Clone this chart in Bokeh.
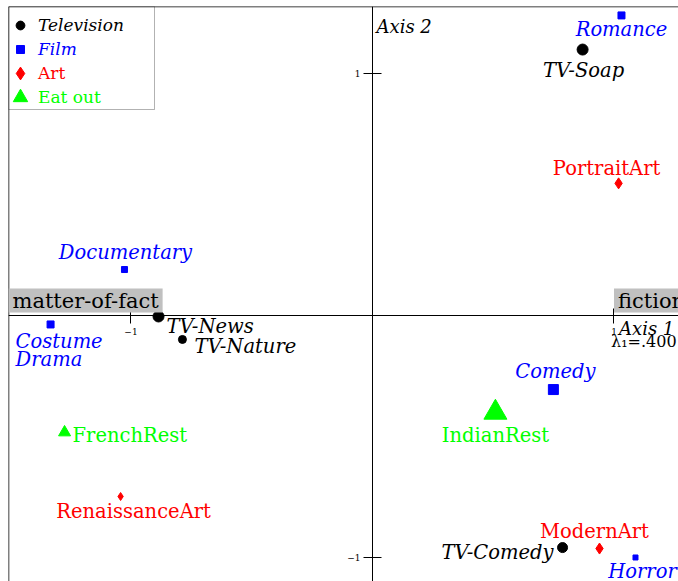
from bokeh.plotting import figure
from bokeh.models import (ColumnDataSource, Span, Label, LinearAxis, FixedTicker,
                          Legend, LegendItem, BoxAnnotation)
from bokeh.core.properties import value
from bokeh.embed import file_html
from bokeh.resources import INLINE

# ---------------- data ----------------
tv_names = ["TV-Soap", "TV-News", "TV-Nature", "TV-Comedy"]
tv_x = [0.870, -0.886, -0.787, 0.787]
tv_y = [1.099, -0.004, -0.099, -0.959]

film_names = ["Romance", "Documentary", "Costume\nDrama", "Comedy", "Horror"]
film_x = [1.031, -1.027, -1.333, 0.749, 1.089]
film_y = [1.240, 0.190, -0.037, -0.306, -1.000]

art_names = ["PortraitArt", "RenaissanceArt", "ModernArt"]
art_x = [1.019, -1.043, 0.940]
art_y = [0.546, -0.748, -0.963]

eat_names = ["FrenchRest", "IndianRest"]
eat_x = [-1.275, 0.509]
eat_y = [-0.483, -0.401]

axis_ticks = [-1, 1]
tick_labels = {-1: "\u22121", 1: "1"}
pole_left = "matter-of-fact"
pole_right = "fiction"
axis1_title = "Axis 1"
axis2_title = "Axis 2"
lambda1_text = "\u03bb\u2081=.400"
legend_labels = ["Television", "Film", "Art", "Eat out"]

# ---------------- styles ----------------
W, H = 678, 581
ML, MT = 8, 6              # frame offset inside the figure
HF = H - MT                # frame height
X0, X1 = -1.5072, 1.2671
Y0, Y1 = -1.0992, 1.2769
FONT = "DejaVu Serif"
LBL_SIZE = "19.5px"

tv_size = [11, 11, 8, 10]
film_size = [7, 6, 7, 10, 5]
art_size = [11, 8, 11]
eat_size = [12, 23]

tv_dx = [1, 8, 12, -9]
tv_dy = [21, 10, 7, 5]
tv_al = ["center", "left", "left", "right"]
tv_bl = ["alphabetic"] * 4
tv_lh = [0.9] * 4

film_dx = [0, 1, -35, 2, 7]
film_dy = [14, -17, 6, -18, 14]
film_al = ["center", "center", "left", "center", "center"]
film_bl = ["alphabetic", "alphabetic", "top", "alphabetic", "alphabetic"]
film_lh = [0.9, 0.9, 0.75, 0.9, 0.9]

art_dx = [-12, 13, -5]
art_dy = [-15, 15, -17]
art_al = ["center", "center", "center"]
art_bl = ["alphabetic"] * 3
art_lh = [0.9] * 3

eat_dx = [8, 0]
eat_dy = [3, 23]
eat_al = ["left", "center"]
eat_bl = ["alphabetic"] * 2
eat_lh = [0.9] * 2

p = figure(width=W, height=H, x_range=(X0, X1), y_range=(Y0, Y1),
           output_backend="svg", toolbar_location=None,
           x_axis_location=None, y_axis_location=None,
           min_border_left=ML, min_border_top=MT, min_border_right=0, min_border_bottom=0,
           outline_line_color=None, background_fill_color="white",
           border_fill_color="white")
p.grid.visible = False

# frame borders (left and top only; the rest is cut off)
p.add_layout(Span(location=X0, dimension="height", line_color="black", line_width=1.5))
p.add_layout(Span(location=Y1, dimension="width", line_color="black", line_width=1.5))

# axes through the origin
xaxis = LinearAxis(fixed_location=0, ticker=FixedTicker(ticks=axis_ticks),
                   major_label_overrides=tick_labels,
                   major_tick_in=7, major_tick_out=8, minor_tick_line_color=None,
                   axis_line_color="black", major_tick_line_color="black",
                   major_label_text_font=FONT, major_label_text_font_size="9px",
                   major_label_text_color="black", major_label_standoff=4)
yaxis = LinearAxis(fixed_location=0, ticker=FixedTicker(ticks=axis_ticks),
                   major_label_overrides=tick_labels,
                   major_tick_in=9, major_tick_out=9, minor_tick_line_color=None,
                   axis_line_color="black", major_tick_line_color="black",
                   major_label_text_font=FONT, major_label_text_font_size="9px",
                   major_label_text_color="black",
                   major_label_standoff=3, major_label_orientation="horizontal")
p.add_layout(xaxis, "below")
p.add_layout(yaxis, "left")


def draw(names, xs, ys, marker, sizes, color, style, dxs, dys, als, bls, lhs):
    src = ColumnDataSource(dict(x=xs, y=ys, size=sizes))
    r = p.scatter("x", "y", source=src, marker=marker, size="size",
                  fill_color=color, line_color=color)
    for i in range(len(names)):
        p.text(x=[xs[i]], y=[ys[i]], text=[names[i]], x_offset=dxs[i], y_offset=dys[i],
               text_align=als[i], text_baseline=bls[i], text_color=color,
               text_font=value(FONT), text_font_size=LBL_SIZE,
               text_font_style=style, text_line_height=lhs[i])
    return r


r_tv = draw(tv_names, tv_x, tv_y, "circle", tv_size, "black", "italic",
            tv_dx, tv_dy, tv_al, tv_bl, tv_lh)
r_film = draw(film_names, film_x, film_y, "square", film_size, "#0000ff", "italic",
              film_dx, film_dy, film_al, film_bl, film_lh)
r_art = draw(art_names, art_x, art_y, "diamond", art_size, "#ff0000", "normal",
             art_dx, art_dy, art_al, art_bl, art_lh)
r_eat = draw(eat_names, eat_x, eat_y, "triangle", eat_size, "#00ff00", "normal",
             eat_dx, eat_dy, eat_al, eat_bl, eat_lh)

# pole labels on the horizontal axis
p.add_layout(Label(x=0, x_units="screen", y=0, text=pole_left, text_font=FONT,
                   text_font_size="21px", text_color="black", text_baseline="bottom",
                   x_offset=0, y_offset=3,
                   background_fill_color="#c0c0c0", padding=(4, 0)))
p.add_layout(Label(x=1, y=0, text=pole_right, text_font=FONT,
                   text_font_size="21px", text_color="black", text_baseline="bottom",
                   x_offset=0, y_offset=3,
                   background_fill_color="#c0c0c0", padding=(4, 0)))

# axis titles
p.add_layout(Label(x=0, y=HF - 20, y_units="screen", text=axis2_title, x_offset=4,
                   text_font=FONT, text_font_style="italic", text_font_size="18px",
                   text_color="black", text_baseline="alphabetic"))
p.add_layout(Label(x=1, y=0, text=axis1_title, x_offset=5, y_offset=-13,
                   text_font=FONT, text_font_style="italic", text_font_size="18px",
                   text_color="black", text_baseline="alphabetic"))
p.add_layout(Label(x=1, y=0, text=lambda1_text, x_offset=-3, y_offset=-26,
                   text_font=FONT, text_font_size="16px", text_color="black",
                   text_baseline="alphabetic"))

# legend box
p.add_layout(BoxAnnotation(left=0, right=146, top=HF, bottom=HF - 103,
                           left_units="screen", right_units="screen",
                           top_units="screen", bottom_units="screen",
                           fill_alpha=0, line_color="black", line_width=1))

leg_specs = [
    (r_tv, legend_labels[0], "black", "italic", 22, 25),
    (r_film, legend_labels[1], "#0000ff", "italic", 20, 49),
    (r_art, legend_labels[2], "#ff0000", "normal", 32, 73),
    (r_eat, legend_labels[3], "#00ff00", "normal", 36, 97),
]
for rend, lab, col, sty, G, yc in leg_specs:
    cy = HF - (yc - MT)
    leg = Legend(items=[LegendItem(label=lab, renderers=[rend])],
                 location=(12 - G / 2, cy - G / 2), orientation="vertical",
                 padding=0, margin=0, spacing=0, border_line_color=None,
                 background_fill_alpha=0, glyph_width=G, glyph_height=G,
                 label_standoff=max(0, int(round(18 - G / 2))),
                 label_text_font=FONT, label_text_font_style=sty,
                 label_text_font_size="17px", label_text_color=col)
    p.add_layout(leg)

open("out.html", "w").write(file_html(p, INLINE))
